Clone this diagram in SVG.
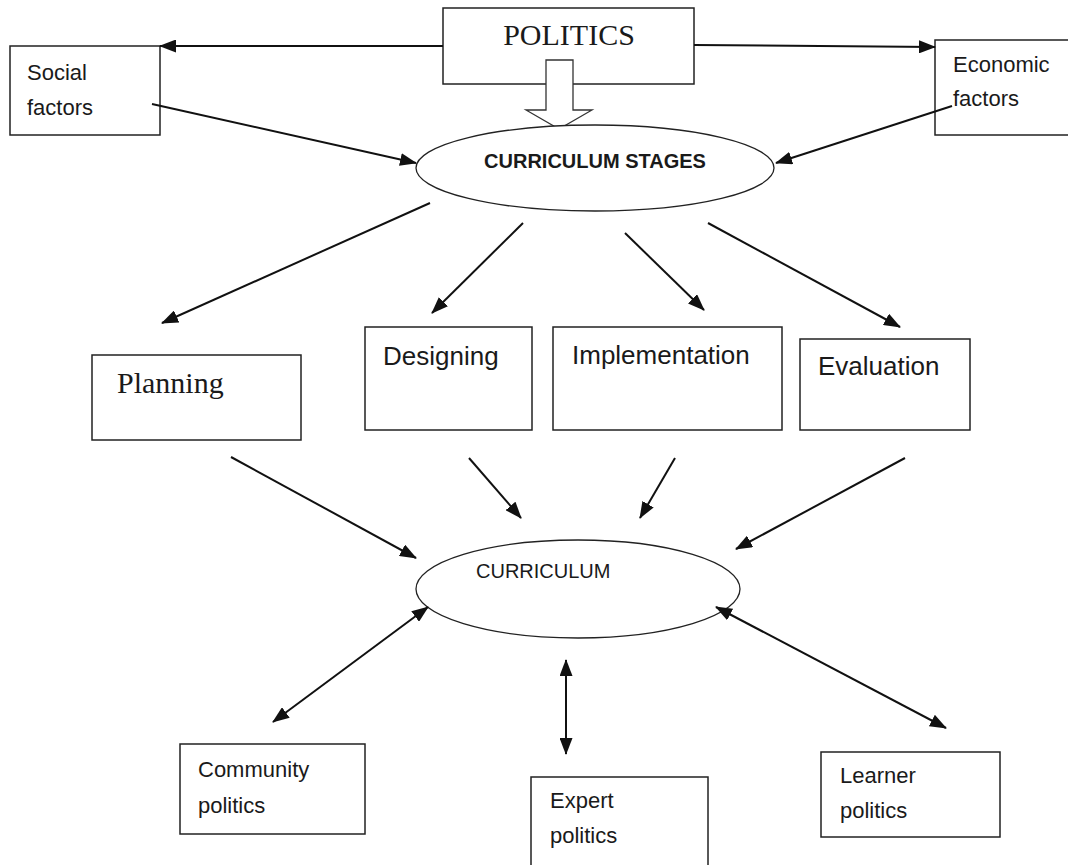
<svg xmlns="http://www.w3.org/2000/svg" width="1068" height="865" viewBox="0 0 1068 865">
<style>
.box{fill:#fff;stroke:#222;stroke-width:1.5}
.ell{fill:#fff;stroke:#222;stroke-width:1.3}
.ln{fill:none;stroke:#111;stroke-width:2}
.sans{font-family:"Liberation Sans",Arial,sans-serif;fill:#1a1a1a}
.serif{font-family:"Liberation Serif","Times New Roman",serif;fill:#1a1a1a}
</style>
<defs>
<marker id="ah" markerUnits="userSpaceOnUse" markerWidth="17" markerHeight="13" viewBox="0 0 17 13" refX="16" refY="6.5" orient="auto">
<path d="M0,0 L17,6.5 L0,13 Z" fill="#111"/>
</marker>
<marker id="as" markerUnits="userSpaceOnUse" markerWidth="17" markerHeight="13" viewBox="0 0 17 13" refX="1" refY="6.5" orient="auto">
<path d="M17,0 L0,6.5 L17,13 Z" fill="#111"/>
</marker>
</defs>
<rect width="1068" height="865" fill="#fff"/>

<g id="politics">
<rect class="box" x="443" y="8" width="251" height="76"/>
<text class="serif" x="569" y="45" font-size="30" text-anchor="middle">POLITICS</text>
</g>

<g id="social-factors">
<rect class="box" x="10" y="46" width="150" height="89"/>
<text class="sans" x="27" y="80" font-size="22">Social</text>
<text class="sans" x="27" y="115" font-size="22">factors</text>
</g>

<g id="economic-factors">
<rect class="box" x="935" y="40" width="140" height="95"/>
<text class="sans" x="953" y="72" font-size="22">Economic</text>
<text class="sans" x="953" y="106" font-size="22">factors</text>
</g>

<g id="block-arrow">
<path d="M546,60 L573,60 L573,110 L592,110 L559,129 L526,110 L546,110 Z" fill="#fff" stroke="#333" stroke-width="1.3"/>
</g>

<g id="curriculum-stages">
<ellipse class="ell" cx="595" cy="168" rx="179" ry="43"/>
<text class="sans" x="595" y="168" font-size="20" font-weight="bold" text-anchor="middle">CURRICULUM STAGES</text>
</g>

<g id="planning">
<rect class="box" x="92" y="355" width="209" height="85"/>
<text class="serif" x="117" y="393" font-size="30">Planning</text>
</g>

<g id="designing">
<rect class="box" x="365" y="327" width="167" height="103"/>
<text class="sans" x="383" y="365" font-size="26">Designing</text>
</g>

<g id="implementation">
<rect class="box" x="553" y="327" width="229" height="103"/>
<text class="sans" x="572" y="364" font-size="26">Implementation</text>
</g>

<g id="evaluation">
<rect class="box" x="800" y="339" width="170" height="91"/>
<text class="sans" x="818" y="375" font-size="26">Evaluation</text>
</g>

<g id="curriculum">
<ellipse class="ell" cx="578" cy="589" rx="162" ry="49"/>
<text class="sans" x="476" y="578" font-size="20">CURRICULUM</text>
</g>

<g id="community-politics">
<rect class="box" x="180" y="744" width="185" height="90"/>
<text class="sans" x="198" y="777" font-size="22">Community</text>
<text class="sans" x="198" y="813" font-size="22">politics</text>
</g>

<g id="expert-politics">
<rect class="box" x="531" y="777" width="177" height="95"/>
<text class="sans" x="550" y="808" font-size="22">Expert</text>
<text class="sans" x="550" y="843" font-size="22">politics</text>
</g>

<g id="learner-politics">
<rect class="box" x="821" y="752" width="179" height="85"/>
<text class="sans" x="840" y="783" font-size="22">Learner</text>
<text class="sans" x="840" y="818" font-size="22">politics</text>
</g>

<g id="connectors">
<line class="ln" x1="443" y1="46" x2="160" y2="46" marker-end="url(#ah)"/>
<line class="ln" x1="694" y1="45" x2="935" y2="47" marker-end="url(#ah)"/>
<line class="ln" x1="152" y1="104" x2="416" y2="163" marker-end="url(#ah)"/>
<line class="ln" x1="952" y1="106" x2="776" y2="163" marker-end="url(#ah)"/>
<line class="ln" x1="430" y1="203" x2="162" y2="323" marker-end="url(#ah)"/>
<line class="ln" x1="523" y1="223" x2="432" y2="313" marker-end="url(#ah)"/>
<line class="ln" x1="625" y1="233" x2="704" y2="310" marker-end="url(#ah)"/>
<line class="ln" x1="708" y1="223" x2="900" y2="327" marker-end="url(#ah)"/>
<line class="ln" x1="231" y1="457" x2="416" y2="558" marker-end="url(#ah)"/>
<line class="ln" x1="469" y1="458" x2="521" y2="518" marker-end="url(#ah)"/>
<line class="ln" x1="675" y1="458" x2="640" y2="518" marker-end="url(#ah)"/>
<line class="ln" x1="905" y1="458" x2="736" y2="549" marker-end="url(#ah)"/>
<line class="ln" x1="428" y1="607" x2="273" y2="722" marker-start="url(#as)" marker-end="url(#ah)"/>
<line class="ln" x1="566" y1="660" x2="566" y2="754" marker-start="url(#as)" marker-end="url(#ah)"/>
<line class="ln" x1="716" y1="607" x2="946" y2="728" marker-start="url(#as)" marker-end="url(#ah)"/>
</g>
</svg>
